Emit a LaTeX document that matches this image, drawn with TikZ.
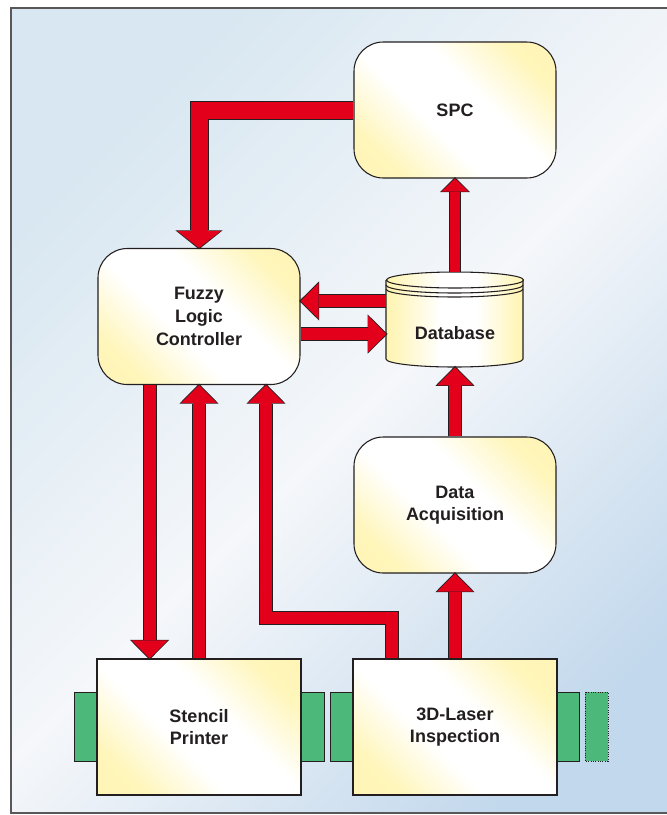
\documentclass[tikz,border=0pt]{standalone}
\usepackage{fontspec}
\setmainfont{Liberation Sans}
\usetikzlibrary{arrows.meta}

\definecolor{flow}{RGB}{226,0,26}
\definecolor{edge}{RGB}{35,31,32}
\definecolor{conveyor}{RGB}{76,185,123}
\definecolor{cream}{RGB}{255,244,175}
\definecolor{skyA}{RGB}{216,231,241}
\definecolor{skyM}{RGB}{245,247,250}
\definecolor{skyB}{RGB}{194,216,236}

\pgfdeclareverticalshading{paper}{100bp}{color(0bp)=(cream); color(25bp)=(cream!85!white); color(42bp)=(white); color(58bp)=(white); color(75bp)=(cream!85!white); color(100bp)=(cream)}
\pgfdeclarehorizontalshading{drum}{100bp}{color(0bp)=(cream); color(25bp)=(cream); color(45bp)=(white); color(58bp)=(white); color(75bp)=(cream); color(100bp)=(cream)}

\tikzset{
	pipe/.style = {draw=flow, line width=9pt, -{Triangle[width=27pt,length=13.5pt,line width=0pt]},
		preaction={draw=edge, line width=10.5pt, -{Triangle[width=29.5pt,length=15pt,line width=0pt]}, shorten >=-1pt}},
	bigpipe/.style = {draw=flow, line width=12.75pt, -{Triangle[width=33pt,length=12.75pt,line width=0pt]},
		preaction={draw=edge, line width=14.25pt, -{Triangle[width=35.5pt,length=14.25pt,line width=0pt]}, shorten >=-1pt}},
	smallpipe/.style = {draw=flow, line width=7.5pt, -{Triangle[width=20.25pt,length=9.75pt,line width=0pt]},
		preaction={draw=edge, line width=9pt, -{Triangle[width=22.75pt,length=11.25pt,line width=0pt]}, shorten >=-1pt}},
}

\begin{document}
\begin{tikzpicture}[x=0.75pt, y=-0.75pt,
	every node/.style = {font=\bfseries\fontsize{13.5}{17}\selectfont, align=center, text=edge},
	proc/.style = {draw=edge, line width=0.8pt, rounded corners=22pt, minimum width=151.5pt, minimum height=102pt,
		shading=paper, shading angle=-45},
	station/.style = {draw=edge, line width=0.8pt, minimum width=153pt, minimum height=102pt,
		shading=paper, shading angle=-45},
	belt/.style = {draw=edge, line width=0.75pt, fill=conveyor},
	cyl/.style = {draw=edge, line width=0.8pt, shading=drum}]

	\clip (0,0) rectangle (667,815);
	% backdrop
	\draw[edge!75, line width=0.8pt, top color=skyA, bottom color=skyB, middle color=skyM, shading angle=45]
		(11,8) rectangle (720,813);

	% conveyor pieces
	\draw[belt] (74,692) rectangle (97,761);
	\draw[belt] (301,692) rectangle (324,761);
	\draw[belt] (330,692) rectangle (353,761);
	\draw[belt] (557,692) rectangle (579,761);
	\draw[belt, densely dotted] (585,692) rectangle (608,761);

	% database drum
	\draw[cyl] (386,280) -- (386,359) arc[start angle=180, end angle=0, x radius=68.5, y radius=8] -- (523,280);
	\draw[cyl] (455,280) ellipse[x radius=68.5, y radius=8];
	\draw[edge, line width=0.8pt] (386,285) arc[start angle=180, end angle=0, x radius=68.5, y radius=8];
	\draw[edge, line width=0.8pt] (386,289) arc[start angle=180, end angle=0, x radius=68.5, y radius=8];

	\node[proc] (spc) at (455,110) {SPC};
	\node[proc] (flc) at (199,316.5) {Fuzzy\\Logic\\Controller};
	\node[minimum width=102.75pt, minimum height=71.25pt, text height=29.5pt, text depth=0pt] (db) at (455,319.5) {Database};
	\node[proc] (da) at (455,505) {Data\\Acquisition};
	\node[station] (stencil) at (199,727) {Stencil\\Printer};
	\node[station] (laser) at (455,727) {3D-Laser\\Inspection};

	\coordinate (dbout) at ([yshift=13.9pt]db.west);
	\coordinate (dbin) at ([yshift=-10.9pt]db.west);

	\draw[bigpipe] (spc.west) -| (flc.north);
	\draw[pipe] (dbout) -- (flc.east |- dbout);
	\draw[pipe] (flc.east |- dbin) -- (dbin);
	\draw[smallpipe] (db.north) -- (spc.south);
	\draw[pipe] (da.north) -- (db.south);
	\draw[pipe] (laser.north) -- (da.south);
	\draw[pipe] ([xshift=-37.1pt]flc.south) -- ([xshift=-37.1pt]stencil.north);
	\draw[pipe] (stencil.north) -- (flc.south);
	\draw[pipe] ([xshift=-46.9pt]laser.north) -- ++(0,-40.5) -| ([xshift=50.25pt]flc.south);
\end{tikzpicture}
\end{document}
